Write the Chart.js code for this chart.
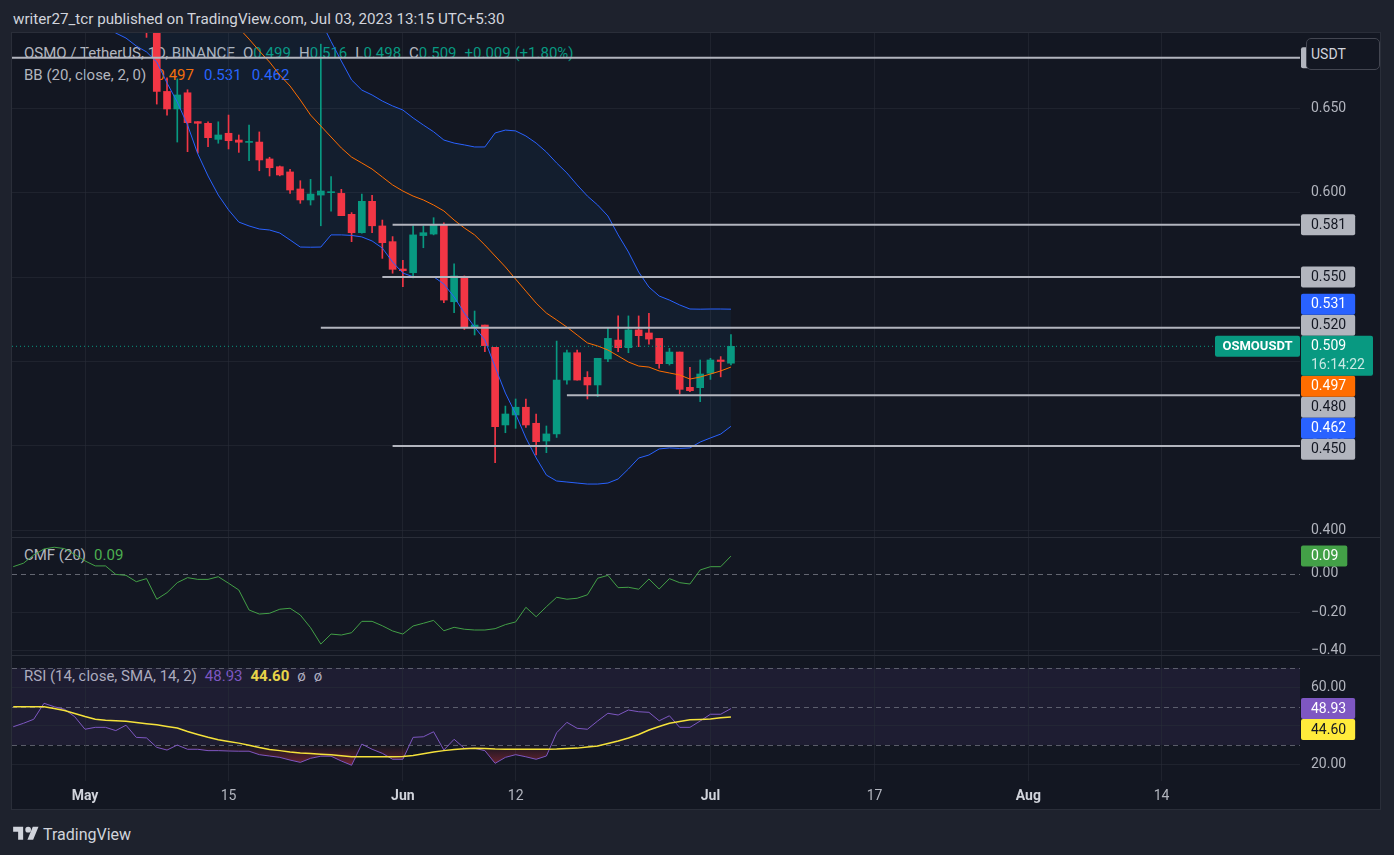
<!DOCTYPE html>
<html><head><meta charset="utf-8">
<script src="https://cdn.jsdelivr.net/npm/chart.js@4.4.0/dist/chart.umd.min.js"></script>
<style>
body{margin:0;width:1394px;height:855px;background:#1e222d;overflow:hidden;position:relative;font-family:Roboto,'Open Sans',sans-serif;}
.abs{position:absolute}
#frame{left:11px;top:32px;width:1368px;height:776px;border:1px solid #2a2e39;background:#131722;z-index:0}
canvas{position:absolute;z-index:2}
.leg{position:absolute;z-index:1;font-size:15px;line-height:18px;color:#b2b5be;white-space:nowrap}
.leg span{margin-left:8px}
#leg2 span{margin-left:10px}
.sep{position:absolute;left:12px;width:1368px;height:1px;background:#2a2e39;z-index:3}
#usdt{left:1306px;top:38px;width:68px;height:30px;border:1px solid #434651;border-radius:5px;background:#131722;z-index:4;color:#d1d4dc;font-size:14px;line-height:30px;padding-left:4px;box-sizing:content-box}
</style></head>
<body>
<div class="abs" style="left:13px;top:10px;font-size:15.2px;color:#d1d4dc;white-space:nowrap">writer27_tcr published on TradingView.com, Jul 03, 2023 13:15 UTC+5:30</div>
<div id="frame" class="abs"></div>
<div id="leg1" class="leg" style="left:24px;top:44px"></div>
<div id="leg2" class="leg" style="left:24px;top:66px"></div>
<div id="leg3" class="leg" style="left:24px;top:546px"></div>
<div id="leg4" class="leg" style="left:24px;top:667px"></div>
<canvas id="cMain" width="1368" height="504" style="left:12px;top:33px"></canvas>
<div class="sep" style="top:537px"></div>
<canvas id="cCmf" width="1368" height="117" style="left:12px;top:538px"></canvas>
<div class="sep" style="top:655px"></div>
<canvas id="cRsi" width="1368" height="153" style="left:12px;top:656px"></canvas>
<div id="usdt" class="abs">USDT</div>
<div class="abs" style="left:13px;top:824px;display:flex;align-items:center;color:#d1d4dc;font-size:16px">
<svg width="26" height="20" viewBox="0 0 36 28"><path fill="#d1d4dc" d="M14 22H7V11H0V4h14v18zM28 22h-8l7.5-18h8L28 22zM21 12a4 4 0 1 0 0-8 4 4 0 0 0 0 8z"/></svg>
<span style="margin-left:4px">TradingView</span></div>
<script>
// ---------- DATA ----------
const dates = ['04-24','04-25','04-26','04-27','04-28','04-29','04-30',
'05-01','05-02','05-03','05-04','05-05','05-06','05-07','05-08','05-09','05-10','05-11','05-12','05-13','05-14','05-15','05-16','05-17','05-18','05-19','05-20','05-21','05-22','05-23','05-24','05-25','05-26','05-27','05-28','05-29','05-30','05-31',
'06-01','06-02','06-03','06-04','06-05','06-06','06-07','06-08','06-09','06-10','06-11','06-12','06-13','06-14','06-15','06-16','06-17','06-18','06-19','06-20','06-21','06-22','06-23','06-24','06-25','06-26','06-27','06-28','06-29','06-30',
'07-01','07-02','07-03'];
const open = [.770,.762,.750,.758,.780,.772,.768,.752,.722,.728,.725,.712,.722,.705,
.700,.660,.6496,.6592,.6421,.6411,.6316,.6352,.6312,.6298,.6300,.6200,.6154,.6123,.6022,.5957,.5986,.6000,.5996,.5872,.5763,.5949,.5803,.5710,.5548,.5526,.5746,.5755,.5808,.5354,.5499,.5203,.5216,.5084,.4624,.4683,.4729,.4634,.4529,.4571,.4890,.5052,.4906,.4861,.5015,.5127,.5082,.5187,.5169,.5137,.4987,.5056,.4847,.4845,.4930,.5009,.499];
const high = [.785,.770,.765,.790,.785,.778,.772,.755,.735,.735,.728,.728,.725,.712,
.705,.668,.6674,.661,.6421,.642,.642,.646,.6342,.6401,.636,.621,.6158,.6138,.6071,.6079,.688,.6095,.602,.5882,.5992,.5985,.5838,.574,.560,.5803,.5803,.5852,.5822,.5578,.5507,.5299,.5216,.5084,.4736,.4778,.4778,.4689,.4618,.5121,.5068,.5068,.494,.5019,.5197,.527,.527,.527,.5285,.5137,.5078,.5056,.4966,.5009,.5019,.5029,.516];
const low = [.755,.745,.740,.752,.765,.760,.745,.715,.712,.715,.705,.708,.700,.692,
.6525,.646,.630,.6243,.6235,.6272,.6293,.6259,.6239,.619,.613,.6099,.610,.5996,.5937,.5927,.5804,.589,.5864,.571,.576,.5763,.5611,.5523,.5443,.5495,.5674,.575,.5348,.5289,.519,.5157,.5058,.440,.4578,.4604,.461,.4446,.446,.455,.4866,.489,.4778,.4792,.4999,.5058,.5052,.5088,.5102,.496,.4979,.4807,.4821,.4762,.4894,.4909,.498];
const close = [.762,.750,.758,.780,.772,.768,.752,.722,.728,.725,.712,.722,.705,.700,
.660,.6496,.6579,.6415,.6411,.6326,.6342,.6308,.6299,.6302,.6194,.6148,.6105,.6016,.5957,.5992,.601,.6004,.5864,.5763,.5949,.5804,.5704,.5546,.5538,.575,.5763,.5808,.5364,.5507,.5206,.5216,.5094,.4614,.4689,.4729,.4624,.4525,.4571,.489,.5052,.489,.4861,.5019,.5137,.5082,.5187,.5153,.5133,.4987,.5056,.4835,.4827,.4926,.5009,.5000,.509];
const bbUpper = [.835,.834,.832,.832,.831,.830,.829,.828,.826,.824,.822,.820,.818,.815,
.812,.808,.803,.797,.790,.782,.775,.768,.758,.748,.738,.730,.724,.718,.713,.708,.7017,.6896,.678,.6668,.6608,.6579,.6543,.6514,.649,.6443,.6401,.6361,.6312,.6294,.6283,.6271,.6271,.6354,.6371,.6366,.6336,.6294,.6241,.6176,.6117,.6046,.598,.5927,.5862,.575,.5649,.553,.5441,.5388,.5364,.5335,.5311,.531,.5311,.5311,.531];
const bbBasis = [.780,.778,.776,.775,.774,.772,.770,.766,.762,.758,.754,.750,.745,.740,
.736,.731,.726,.721,.716,.711,.706,.702,.6976,.691,.684,.6774,.6697,.6632,.6549,.646,.6395,.633,.6265,.6211,.6176,.614,.6093,.6046,.601,.598,.5957,.5927,.5892,.5838,.5791,.575,.569,.5625,.556,.5488,.5417,.5346,.5287,.5246,.5204,.5157,.511,.5092,.5068,.5033,.4997,.4973,.4967,.4944,.4932,.492,.4896,.4908,.4926,.4944,.4967];
const bbLower = [.725,.722,.718,.716,.715,.714,.713,.708,.703,.699,.6946,.6916,.6869,.6834,
.6774,.665,.6537,.6401,.623,.6099,.5986,.5898,.5826,.5803,.5785,.5779,.5761,.572,.5678,.5677,.5678,.575,.575,.5747,.5738,.5714,.5672,.5589,.5524,.5502,.5502,.5502,.5459,.5382,.5287,.5204,.5127,.4967,.4813,.4689,.4547,.4429,.4327,.4292,.4286,.428,.4274,.4274,.428,.4304,.4363,.4428,.4446,.4482,.4488,.4485,.4488,.4523,.4547,.457,.4616];
const cmf = [0.038,0.056,0.099,0.130,0.139,0.132,0.101,0.068,0.042,0.042,
-0.002,-0.007,-0.040,-0.024,-0.131,-0.097,-0.045,-0.019,-0.028,-0.028,
-0.014,-0.048,-0.083,-0.187,-0.208,-0.204,-0.183,-0.178,-0.213,-0.279,
-0.364,-0.312,-0.317,-0.305,-0.246,-0.246,-0.269,-0.296,-0.312,-0.270,
-0.256,-0.241,-0.295,-0.277,-0.287,-0.291,-0.291,-0.284,-0.263,-0.249,
-0.173,-0.222,-0.170,-0.121,-0.131,-0.126,-0.108,-0.022,-0.007,-0.071,
-0.069,-0.079,-0.026,-0.078,-0.024,-0.045,-0.052,0.021,0.038,0.038,0.093];
const rsi = [39.5,41.3,43.4,51.7,49.9,48.6,44.7,38.2,39.2,39.2,
37.5,40.3,34.0,33.7,28.8,27.4,30.0,27.8,27.8,27.1,
27.1,26.9,26.8,26.8,25.0,24.3,23.6,22.2,21.0,23.1,
24.2,24.2,21.7,19.5,30.5,27.8,25.7,22.6,22.6,34.0,
34.3,36.9,27.4,33.0,28.3,28.3,27.1,20.5,23.6,25.0,
23.9,22.6,24.3,36.4,41.8,38.7,38.2,42.5,46.5,45.6,
48.2,47.3,47.0,42.6,45.2,39.2,39.2,42.5,46.0,46.0,48.93];
const rsiMA = [49.9,49.9,49.9,49.9,49.0,47.9,46.4,44.8,43.4,42.9,
42.6,42.3,41.7,41.1,40.5,39.6,38.8,37.0,35.5,34.0,
32.7,31.8,31.0,29.9,28.7,27.7,27.1,26.4,25.9,25.6,
25.2,24.9,24.5,23.9,23.9,23.9,23.9,23.9,24.0,24.6,
25.5,26.4,27.1,27.7,28.1,28.3,28.2,27.9,27.8,27.8,
27.8,27.8,27.8,27.9,28.2,28.4,29.0,29.5,30.8,32.1,
33.7,35.5,37.8,39.6,41.3,42.2,43.1,43.3,43.5,44.2,44.6];
const levelPrices = [0.680,0.581,0.550,0.520,0.480,0.450];
const levelFrom = ['04-22','05-31','05-30','05-24','06-17','05-31'];
const timeTickDates = ['05-01','05-15','06-01','06-12','07-01','07-17','08-01','08-14'];
const timeTickLabels = ['May','15','Jun','12','Jul','17','Aug','14'];
const countdown = '16:14:22';

// ---------- STYLE ----------
const GREEN='#089981', RED='#f23645', BLUE='#2962ff', ORANGE='#ff6d00', GRID='rgba(42,46,57,0.55)';
const X_MIN=-0.12, X_MAX=125.5;
const FONT="Roboto, 'Open Sans', sans-serif";
Chart.defaults.font.family = FONT;
Chart.defaults.color = '#b2b5be';

function dayIndex(md){const [m,d]=md.split('-').map(Number);return Math.round((Date.UTC(2023,m-1,d)-Date.UTC(2023,3,24))/864e5);}
const xi = dates.map(dayIndex);
const tickIdx = timeTickDates.map(dayIndex);
const last = a => a[a.length-1];
const pts = arr => arr.map((v,i)=>({x:xi[i],y:v}));
const cColor = close.map((c,i)=> c>=open[i]?GREEN:RED);

// ---------- LEGENDS ----------
const n=close.length, chg=close[n-1]-close[n-2], pct=chg/close[n-2]*100;
const sg=v=>(v>=0?'+':'');
const g=t=>`<span style="color:${GREEN};margin-left:0">${t}</span>`;
document.getElementById('leg1').innerHTML=`OSMO / TetherUS, 1D, BINANCE<span>O${g(last(open).toFixed(3))}</span><span>H${g(last(high).toFixed(3))}</span><span>L${g(last(low).toFixed(3))}</span><span>C${g(last(close).toFixed(3))}</span><span style="color:${GREEN}">${sg(chg)}${chg.toFixed(3)} (${sg(pct)}${pct.toFixed(2)}%)</span>`;
document.getElementById('leg2').innerHTML=`BB (20, close, 2, 0)<span style="color:${ORANGE}">${last(bbBasis).toFixed(3)}</span><span style="color:${BLUE}">${last(bbUpper).toFixed(3)}</span><span style="color:${BLUE}">${last(bbLower).toFixed(3)}</span>`;
document.getElementById('leg3').innerHTML=`CMF (20)<span style="color:#4caf50">${last(cmf).toFixed(2)}</span>`;
document.getElementById('leg4').innerHTML=`RSI (14, close, SMA, 14, 2)<span style="color:#7e57c2">${last(rsi).toFixed(2)}</span><span style="color:#f5e23b;font-weight:bold">${last(rsiMA).toFixed(2)}</span><span>ø</span><span>ø</span>`;

// ---------- HELPERS ----------
function xScale(withLabels){
  return {type:'linear',min:X_MIN,max:X_MAX,offset:false,
    afterBuildTicks:s=>{s.ticks=tickIdx.map(v=>({value:v}));},
    afterFit:s=>{s.height=withLabels?28:0;s.paddingLeft=0;s.paddingRight=0;},
    grid:{color:GRID,drawTicks:false,offset:false},border:{display:false},
    ticks: withLabels?{display:true,autoSkip:false,maxRotation:0,padding:7,
      callback:(v,i)=>timeTickLabels[i],
      color:c=>/^[A-Z]/.test(timeTickLabels[c.index])?'#d1d4dc':'#b2b5be',
      font:c=>({size:14,weight:/^[A-Z]/.test(timeTickLabels[c.index])?'bold':'normal'})}:{display:false}};
}
function yScale(min,max,step,fmt,gridColor){
  return {type:'linear',position:'right',min,max,
    afterFit:s=>{s.width=80;s.paddingTop=0;s.paddingBottom=0;},
    grid:{color:gridColor||GRID,drawTicks:false},border:{display:false},
    ticks:{stepSize:step,includeBounds:false,padding:11,color:'#b2b5be',font:{size:14},callback:fmt}};
}
function label(ctx,x,top,h,bg,fg,text,minW){
  ctx.font='14px '+FONT;
  const w=Math.max(minW||0,ctx.measureText(text).width+19);
  ctx.fillStyle=bg;ctx.beginPath();
  if(ctx.roundRect)ctx.roundRect(x,top,w,h,2);else ctx.rect(x,top,w,h);
  ctx.fill();
  ctx.fillStyle=fg;ctx.textBaseline='middle';ctx.textAlign='left';
  ctx.fillText(text,x+10,top+h/2+0.5);
}
function dashed(ctx,area,y,color){
  ctx.save();ctx.strokeStyle=color;ctx.lineWidth=1;ctx.setLineDash([5,4]);
  ctx.beginPath();ctx.moveTo(area.left,Math.round(y)+0.5);ctx.lineTo(area.right,Math.round(y)+0.5);ctx.stroke();ctx.restore();
}
const LH=21;
function stack(items,anchorTop,anchorH){
  const below=items.filter(it=>it.top>=anchorTop).sort((a,b)=>a.top-b.top);
  let e=anchorTop+anchorH;
  below.forEach(it=>{it.top=Math.max(it.top,e);e=it.top+LH;});
  const above=items.filter(it=>it.top<anchorTop).sort((a,b)=>b.top-a.top);
  e=anchorTop;
  above.forEach(it=>{it.top=Math.min(it.top,e-LH);e=it.top;});
}

// ---------- MAIN PANE ----------
const priceLabels={id:'priceLabels',afterDraw(chart){
  const {ctx,chartArea:a,scales:{y}}=chart;ctx.save();
  const anchorTop=y.getPixelForValue(last(close))-LH/2, aH=40;
  const items=levelPrices.map(v=>({v,bg:'#b2b5be',fg:'#131722'}))
    .concat([{v:last(bbUpper),bg:BLUE,fg:'#fff'},{v:last(bbLower),bg:BLUE,fg:'#fff'},{v:last(bbBasis),bg:ORANGE,fg:'#fff'}]);
  items.forEach(it=>it.top=y.getPixelForValue(it.v)-LH/2);
  stack(items,anchorTop,aH);
  const x0=a.right+1;
  items.forEach(it=>label(ctx,x0,it.top,LH,it.bg,it.fg,it.v.toFixed(3),54));
  ctx.font='14px '+FONT;
  const w=Math.max(ctx.measureText(countdown).width,ctx.measureText(last(close).toFixed(3)).width)+18;
  ctx.fillStyle=GREEN;ctx.beginPath();if(ctx.roundRect)ctx.roundRect(x0,anchorTop,w,aH,2);else ctx.rect(x0,anchorTop,w,aH);ctx.fill();
  ctx.fillStyle='#fff';ctx.textBaseline='middle';ctx.textAlign='left';
  ctx.fillText(last(close).toFixed(3),x0+10,anchorTop+LH/2+0.5);
  ctx.fillStyle='rgba(255,255,255,0.78)';ctx.fillText(countdown,x0+10,anchorTop+30);
  ctx.fillStyle=GREEN;ctx.beginPath();if(ctx.roundRect)ctx.roundRect(a.right-85,anchorTop,85,LH,2);else ctx.rect(a.right-85,anchorTop,85,LH);ctx.fill();
  ctx.fillStyle='#fff';ctx.font='bold 13px '+FONT;ctx.textAlign='center';
  ctx.fillText('OSMOUSDT',a.right-42.5,anchorTop+LH/2+0.5);
  ctx.restore();
}};
const ds=[];
levelPrices.forEach((p,k)=>ds.push({type:'line',data:[{x:dayIndex(levelFrom[k]),y:p},{x:X_MAX,y:p}],borderColor:'#b2b5be',borderWidth:2,pointRadius:0,order:1}));
ds.push({type:'line',data:[{x:X_MIN,y:last(close)},{x:X_MAX,y:last(close)}],borderColor:GREEN,borderWidth:1,borderDash:[1,3],pointRadius:0,order:2});
const iLower=ds.length;
ds.push({type:'line',data:pts(bbLower),borderColor:BLUE,borderWidth:1,pointRadius:0,order:3});
ds.push({type:'line',data:pts(bbBasis),borderColor:ORANGE,borderWidth:1,pointRadius:0,order:3});
ds.push({type:'line',data:pts(bbUpper),borderColor:BLUE,borderWidth:1,pointRadius:0,order:3,fill:iLower,backgroundColor:'rgba(33,150,243,0.06)'});
ds.push({type:'bar',data:xi.map((x,i)=>({x,y:[open[i],close[i]]})),backgroundColor:cColor,barThickness:7,minBarLength:1,grouped:false,borderWidth:0,order:5});
ds.push({type:'bar',data:xi.map((x,i)=>({x,y:[low[i],high[i]]})),backgroundColor:cColor,barThickness:1,grouped:false,borderWidth:0,order:6});

new Chart(document.getElementById('cMain'),{type:'bar',data:{datasets:ds},
  options:{responsive:false,animation:false,devicePixelRatio:1,layout:{padding:0},
    plugins:{legend:{display:false},tooltip:{enabled:false},filler:{drawTime:'beforeDatasetsDraw'}},
    scales:{x:xScale(false),y:yScale(0.39603,0.69461,0.05,v=>v.toFixed(3))}},
  plugins:[priceLabels]});

// ---------- CMF PANE ----------
const cmfPlug={id:'cmfPlug',
  beforeDatasetsDraw(chart){dashed(chart.ctx,chart.chartArea,chart.scales.y.getPixelForValue(0),'rgba(120,123,134,0.8)');},
  afterDraw(chart){const y=chart.scales.y;label(chart.ctx,chart.chartArea.right+1,y.getPixelForValue(last(cmf))-LH/2,LH,'#43a047','#fff',last(cmf).toFixed(2));}};
new Chart(document.getElementById('cCmf'),{type:'line',
  data:{datasets:[{data:pts(cmf),borderColor:'#43a047',borderWidth:1,pointRadius:0}]},
  options:{responsive:false,animation:false,devicePixelRatio:1,layout:{padding:0},
    plugins:{legend:{display:false},tooltip:{enabled:false}},
    scales:{x:xScale(false),y:yScale(-0.4208,0.187,0.2,v=>(v<-1e-9?'\u2212':'')+Math.abs(v).toFixed(2),c=>Math.abs(c.tick.value)<1e-9?'rgba(0,0,0,0)':GRID)}},
  plugins:[cmfPlug]});

// ---------- RSI PANE ----------
const rsiPlug={id:'rsiPlug',
  beforeDraw(chart){const {ctx,chartArea:a,scales:{y}}=chart;const t=y.getPixelForValue(70),b=y.getPixelForValue(30);
    ctx.save();ctx.fillStyle='rgba(126,87,194,0.1)';ctx.fillRect(a.left,t,a.right-a.left,b-t);ctx.restore();
    [70,50,30].forEach(v=>dashed(ctx,a,y.getPixelForValue(v),'rgba(120,123,134,0.7)'));},
  afterDraw(chart){const {ctx,chartArea:a,scales:{y}}=chart;
    const it1={top:y.getPixelForValue(last(rsi))-LH/2},it2={top:y.getPixelForValue(last(rsiMA))-LH/2};
    stack([it2],it1.top,LH);
    label(ctx,a.right+1,it1.top,LH,'#7e57c2','#fff',last(rsi).toFixed(2),54);
    label(ctx,a.right+1,it2.top,LH,'#ffeb3b','#131722',last(rsiMA).toFixed(2),54);}};
new Chart(document.getElementById('cRsi'),{type:'line',
  data:{datasets:[
    {data:pts(rsi),borderColor:'#7e57c2',borderWidth:1,pointRadius:0,order:1,
     fill:{value:30,above:'rgba(0,0,0,0)'},
     backgroundColor:c=>{const ch=c.chart;if(!ch.chartArea)return 'rgba(0,0,0,0)';const y=ch.scales.y;
       const gr=ch.ctx.createLinearGradient(0,y.getPixelForValue(30),0,y.getPixelForValue(5));
       gr.addColorStop(0,'rgba(242,54,69,0)');gr.addColorStop(1,'rgba(242,54,69,1)');return gr;}},
    {data:pts(rsiMA),borderColor:'#f5e23b',borderWidth:1.5,pointRadius:0,order:0}]},
  options:{responsive:false,animation:false,devicePixelRatio:1,layout:{padding:0},
    plugins:{legend:{display:false},tooltip:{enabled:false}},
    scales:{x:xScale(true),y:yScale(11.32,76.26,20,v=>v.toFixed(2))}},
  plugins:[rsiPlug]});
</script>
</body></html>
